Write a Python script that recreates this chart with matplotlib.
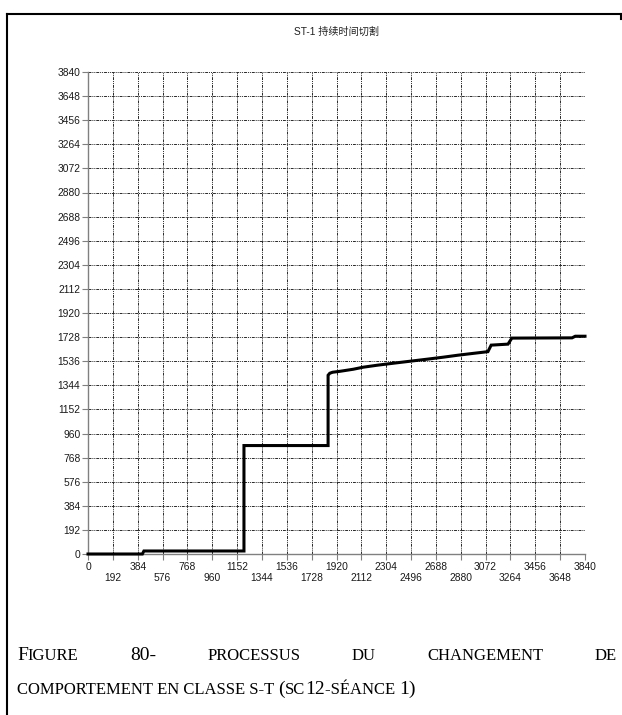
import matplotlib
matplotlib.use("Agg")
import matplotlib.pyplot as plt
from matplotlib.lines import Line2D

# ---- data ----
time = [0, 420, 432, 1205, 1205, 1855, 1855, 1868, 1890, 1950, 2050, 2125, 2235,
        2360, 2490, 2620, 2745, 2860, 2990, 3090, 3115, 3245, 3275, 3740, 3765, 3840]
value = [0, 0, 24, 24, 864, 864, 1424, 1440, 1448, 1456, 1472, 1488, 1504,
         1520, 1536, 1552, 1568, 1584, 1600, 1612, 1664, 1672, 1720, 1722, 1735, 1735]
ticks = list(range(0, 3841, 192))
title = "ST-1 持续时间切割"
caption1 = [("F", "big"), ("IGURE", "small"), (" ", "gap"), ("80-", "big"), (" ", "gap"),
            ("PROCESSUS", "small"), (" ", "gap"), ("DU", "small"), (" ", "gap"),
            ("CHANGEMENT", "small"), (" ", "gap"), ("DE", "small")]
caption2 = [("COMPORTEMENT EN CLASSE S-T ", "small"), ("(", "big"), ("SC", "small"),
            ("12", "big"), ("-SÉANCE ", "small"), ("1)", "big")]

W, H = 622, 715
fig = plt.figure(figsize=(W / 100, H / 100), dpi=100)
ax = fig.add_axes([88 / W, 1 - 554 / H, (585 - 88) / W, (554 - 72) / H])

ax.plot(time, value, color="black", lw=2.2, clip_on=False,
        solid_joinstyle="miter", zorder=5)
ax.set_xlim(0, 3840)
ax.set_ylim(0, 3840)
ax.set_yticks(ticks)
ax.set_yticklabels([str(t) for t in ticks])
ax.set_xticks(ticks)
ax.set_xticklabels([str(t) if i % 2 == 0 else "\n" + str(t) for i, t in enumerate(ticks)])
ax.grid(True, color="#282828", lw=0.7, linestyle=(0, (3, 1, 1, 1, 1, 1)))
for s in ["top", "right"]:
    ax.spines[s].set_visible(False)
for s in ["left", "bottom"]:
    ax.spines[s].set_color("#808080")
    ax.spines[s].set_linewidth(1.0)
ax.tick_params(axis="both", colors="#808080", labelcolor="#1a1a1a",
               labelsize=7.4, length=4, width=0.8, pad=1.5)
for lab in ax.get_xticklabels() + ax.get_yticklabels():
    lab.set_fontfamily("Liberation Sans")
    lab.set_linespacing(1.15)

fig.text(336.5 / W, 1 - 32 / H, title, ha="center", va="center", fontsize=7.3,
         family=["Liberation Sans", "Noto Sans CJK SC"], color="#202020")

# borders of the table cell
fig.add_artist(Line2D([7.5 / W, 1.0], [1 - 14 / H, 1 - 14 / H], color="black", lw=1.5,
                      transform=fig.transFigure))
fig.add_artist(Line2D([7.5 / W, 7.5 / W], [1 - 14 / H, 0.0], color="black", lw=1.5,
                      transform=fig.transFigure))
fig.add_artist(Line2D([620.5 / W, 620.5 / W], [1 - 14 / H, 1 - 19 / H], color="black", lw=1.5,
                      transform=fig.transFigure))

# caption in small caps, Times-like
sizes = {"big": 14.0, "small": 12.0, "gap": 12.0}
fig.canvas.draw()
renderer = fig.canvas.get_renderer()

def measure(txt, size):
    t = fig.text(0, 0, txt, fontsize=size, family="Liberation Serif")
    bb = t.get_window_extent(renderer)
    t.remove()
    return bb.width

def draw_line(parts, y_px, x0, x1=None):
    widths = [measure(p.replace(" ", "\u00a0"), sizes[k]) if k != "gap" else 0
              for p, k in parts]
    ngap = sum(1 for _, k in parts if k == "gap")
    gap = 0
    if x1 is not None and ngap:
        gap = (x1 - x0 - sum(widths)) / ngap
    x = x0
    for (p, k), w in zip(parts, widths):
        if k == "gap":
            x += gap
            continue
        fig.text(x / W, 1 - y_px / H, p.replace(" ", "\u00a0"), fontsize=sizes[k],
                 family="Liberation Serif", ha="left", va="baseline", color="black")
        x += w

draw_line(caption1, 660, 17, 617)
draw_line(caption2, 694, 17)

fig.savefig("out.png", dpi=100)
